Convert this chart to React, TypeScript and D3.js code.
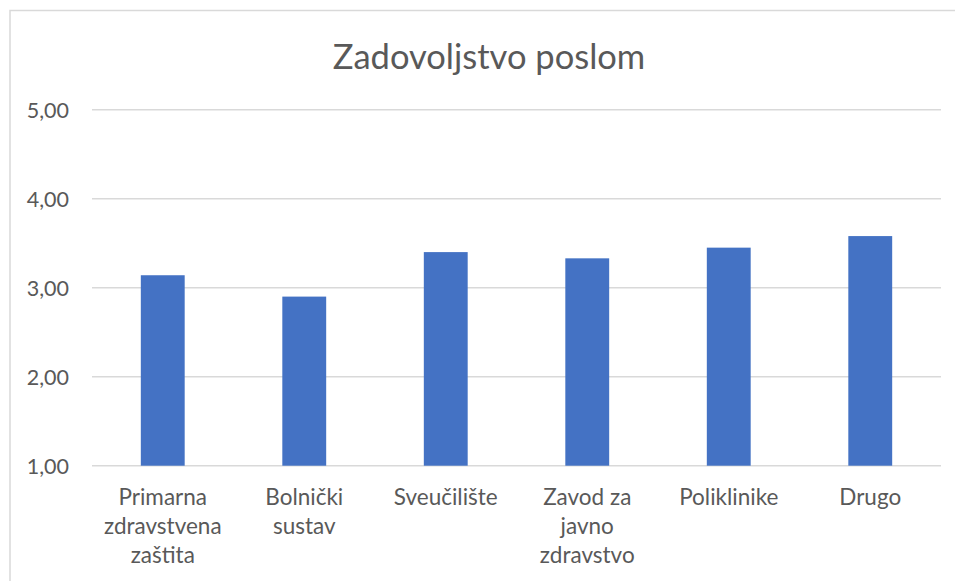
import React from "react";
import * as d3 from "d3";

const categories: string[][] = [
  ["Primarna", "zdravstvena", "zaštita"],
  ["Bolnički", "sustav"],
  ["Sveučilište"],
  ["Zavod za", "javno", "zdravstvo"],
  ["Poliklinike"],
  ["Drugo"],
];
const values: number[] = [3.14, 2.9, 3.4, 3.33, 3.45, 3.58];
const yTicks: number[] = [1, 2, 3, 4, 5];
const title = "Zadovoljstvo poslom";

const W = 955;
const H = 581;
const left = 92;
const right = 941;
const top = 109.7;
const bottom = 465.7;
const FONT = "Lato, 'Open Sans', sans-serif";
const TEXT = "#595959";

export default function App() {
  const x = d3
    .scaleBand<number>()
    .domain(categories.map((_, i) => i))
    .range([left, right])
    .paddingInner(0.69)
    .paddingOuter(0.345);
  const y = d3.scaleLinear().domain([1, 5]).range([bottom, top]);
  const fmt = (v: number) => v.toFixed(2).replace(".", ",");

  return (
    <svg
      width={W}
      height={H}
      style={{ position: "absolute", left: 0, top: 0, background: "#fff" }}
      fontFamily={FONT}
    >
      <rect x={0} y={0} width={W} height={H} fill="#fff" />
      <rect
        x={10}
        y={10.5}
        width={W + 20}
        height={H + 20}
        fill="none"
        stroke="#d9d9d9"
        strokeWidth={1.5}
      />
      <text
        x={489}
        y={69}
        textAnchor="middle"
        fontSize={34.5}
        fill={TEXT}
      >
        {title}
      </text>
      {yTicks.map((t) => (
        <g key={t}>
          <line
            x1={left}
            x2={right}
            y1={y(t)}
            y2={y(t)}
            stroke="#d9d9d9"
            strokeWidth={1.5}
          />
          <text
            x={69}
            y={y(t) + 8}
            textAnchor="end"
            fontSize={21.5}
            fill={TEXT}
          >
            {fmt(t)}
          </text>
        </g>
      ))}
      {values.map((v, i) => (
        <rect
          key={i}
          x={x(i)}
          y={y(v)}
          width={x.bandwidth()}
          height={y(1) - y(v)}
          fill="#4472c4"
        />
      ))}
      {categories.map((lines, i) => (
        <text
          key={i}
          textAnchor="middle"
          fontSize={22.5}
          fill={TEXT}
        >
          {lines.map((ln, j) => (
            <tspan key={j} x={(x(i) as number) + x.bandwidth() / 2} y={505 + j * 29}>
              {ln}
            </tspan>
          ))}
        </text>
      ))}
    </svg>
  );
}
